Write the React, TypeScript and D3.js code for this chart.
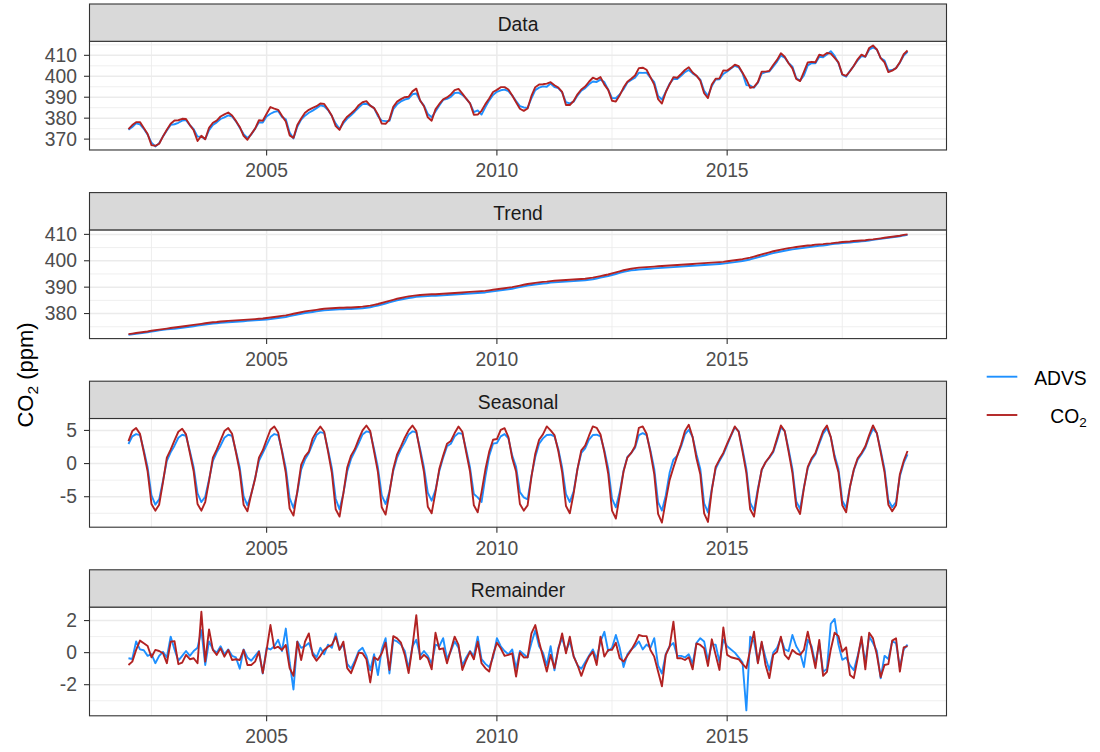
import React from "react";
import * as d3 from "d3";

// ---------------- DATA (monthly, Jan 2002 – Dec 2018) ----------------
const startYear = 2002;

const dataAdvs = [
  374.5, 375.8, 377.5, 377.0, 374.9, 372.1, 368.3, 366.5, 368.0, 371.3, 374.1, 376.8,
  377.1, 377.8, 378.8, 379.1, 376.7, 374.7, 371.2, 371.2, 370.0, 374.3, 376.8, 378.0,
  379.6, 380.4, 381.3, 380.8, 378.5, 375.4, 372.4, 370.6, 372.2, 375.0, 378.0, 377.9,
  380.8, 382.1, 383.0, 383.4, 380.6, 379.5, 373.2, 370.3, 375.9, 379.3, 381.2, 382.6,
  383.6, 384.8, 386.1, 385.7, 383.9, 381.0, 377.4, 374.9, 377.6, 379.8, 381.4, 383.2,
  385.1, 386.7, 386.9, 386.0, 384.8, 381.0, 378.8, 378.6, 378.7, 384.3, 386.6, 388.0,
  388.9, 389.3, 391.4, 391.8, 388.4, 386.0, 382.0, 380.4, 383.2, 386.1, 388.7, 389.2,
  390.2, 392.0, 392.2, 391.1, 389.3, 387.1, 382.9, 383.7, 381.7, 385.3, 388.5, 391.1,
  392.6, 393.3, 393.6, 392.9, 390.8, 388.2, 385.8, 385.1, 384.9, 389.5, 393.4, 394.6,
  395.2, 395.0, 396.5, 394.8, 394.4, 392.3, 387.6, 387.1, 387.9, 390.8, 393.1, 394.3,
  396.2, 397.5, 397.3, 398.4, 397.2, 393.6, 389.6, 389.5, 391.4, 393.8, 397.0, 398.2,
  399.3, 401.7, 401.6, 401.7, 399.3, 397.2, 390.6, 388.9, 392.5, 396.5, 398.8, 398.7,
  400.2, 402.0, 403.0, 401.4, 400.2, 398.4, 393.1, 390.7, 395.3, 398.4, 398.6, 401.1,
  402.3, 403.7, 405.0, 404.3, 401.5, 395.8, 395.6, 394.5, 396.9, 401.3, 402.0, 402.3,
  404.6, 407.0, 409.9, 408.9, 406.4, 404.6, 399.2, 397.9, 400.4, 405.2, 406.3, 406.2,
  409.3, 409.1, 410.4, 412.0, 409.7, 406.2, 400.7, 399.8, 402.6, 405.0, 407.6, 409.6,
  409.3, 412.7, 413.8, 412.8, 408.7, 407.5, 402.8, 403.0, 403.9, 406.5, 409.9, 411.7,
];

const dataCo2 = [
  374.8, 376.7, 378.1, 378.1, 375.3, 372.4, 367.1, 366.8, 367.8, 371.3, 374.5, 377.3,
  378.9, 379.0, 379.7, 379.6, 376.7, 374.2, 369.1, 371.6, 369.9, 375.4, 377.8, 378.8,
  380.8, 381.8, 382.7, 381.3, 378.7, 375.8, 371.6, 369.7, 372.4, 375.0, 379.0, 378.8,
  382.1, 385.3, 384.6, 384.0, 381.1, 378.4, 371.8, 370.6, 376.7, 379.8, 382.6, 384.0,
  384.9, 385.7, 387.0, 386.8, 384.1, 381.1, 376.2, 374.4, 378.4, 380.7, 382.2, 383.9,
  386.2, 387.6, 388.1, 386.0, 384.8, 381.8, 377.4, 377.3, 379.3, 385.4, 387.9, 389.1,
  390.0, 390.2, 392.8, 394.1, 388.4, 385.7, 380.4, 378.8, 384.2, 386.8, 389.0, 389.9,
  391.3, 393.4, 394.0, 391.7, 389.3, 387.1, 381.6, 381.7, 383.5, 386.7, 389.4, 392.5,
  393.5, 394.8, 394.8, 393.7, 390.8, 387.6, 384.5, 383.5, 384.6, 390.6, 394.8, 396.1,
  396.2, 396.5, 397.2, 395.7, 394.6, 392.5, 386.3, 386.3, 388.2, 391.4, 393.7, 395.1,
  397.4, 399.3, 398.5, 399.6, 396.0, 393.5, 388.3, 387.9, 390.9, 394.6, 397.4, 398.8,
  400.4, 403.9, 404.1, 403.1, 399.6, 396.0, 389.1, 387.0, 392.4, 396.1, 399.6, 399.3,
  401.1, 403.0, 404.3, 401.8, 400.3, 397.9, 391.9, 389.6, 396.1, 398.8, 399.0, 402.8,
  402.7, 404.0, 405.5, 404.8, 401.7, 398.5, 394.5, 394.9, 397.2, 402.2, 402.2, 402.6,
  405.4, 407.8, 411.0, 409.3, 406.2, 403.8, 398.7, 397.7, 402.1, 406.6, 406.9, 406.7,
  410.3, 409.8, 411.1, 410.8, 408.8, 406.6, 400.9, 400.2, 402.4, 405.0, 408.1, 410.3,
  409.4, 413.5, 414.7, 412.8, 408.7, 406.6, 402.0, 402.7, 403.9, 406.7, 410.5, 412.3,
];

const trendAdvs = [
  371.9, 372.1, 372.3, 372.5, 372.7, 372.9, 373.2, 373.4, 373.6, 373.8, 374.0, 374.1,
  374.2, 374.4, 374.6, 374.8, 375.0, 375.2, 375.4, 375.6, 375.8, 376.0, 376.2, 376.3,
  376.5, 376.6, 376.7, 376.8, 376.9, 377.0, 377.1, 377.2, 377.3, 377.4, 377.5, 377.6,
  377.7, 377.9, 378.1, 378.3, 378.5, 378.7, 379.0, 379.3, 379.6, 379.9, 380.2, 380.4,
  380.6, 380.8, 381.0, 381.2, 381.3, 381.4, 381.5, 381.6, 381.6, 381.7, 381.7, 381.8,
  381.9, 382.0, 382.2, 382.4, 382.7, 383.0, 383.4, 383.8, 384.2, 384.6, 385.0, 385.3,
  385.6, 385.9, 386.1, 386.3, 386.4, 386.5, 386.6, 386.7, 386.7, 386.8, 386.9, 387.0,
  387.1, 387.2, 387.3, 387.4, 387.5, 387.6, 387.7, 387.8, 387.9, 388.0, 388.2, 388.4,
  388.6, 388.8, 389.0, 389.2, 389.4, 389.7, 390.0, 390.3, 390.6, 390.8, 391.0, 391.2,
  391.4, 391.5, 391.7, 391.8, 391.9, 392.0, 392.1, 392.2, 392.3, 392.4, 392.5, 392.6,
  392.8, 393.0, 393.3, 393.6, 393.9, 394.2, 394.6, 395.0, 395.4, 395.8, 396.1, 396.4,
  396.5, 396.7, 396.8, 396.9, 397.0, 397.1, 397.2, 397.3, 397.4, 397.5, 397.6, 397.7,
  397.8, 397.9, 398.0, 398.1, 398.2, 398.3, 398.4, 398.5, 398.6, 398.7, 398.8, 398.9,
  399.1, 399.3, 399.5, 399.7, 399.9, 400.2, 400.5, 400.9, 401.3, 401.7, 402.1, 402.5,
  402.9, 403.2, 403.5, 403.8, 404.1, 404.3, 404.5, 404.7, 404.9, 405.1, 405.3, 405.5,
  405.7, 405.8, 406.0, 406.2, 406.4, 406.5, 406.7, 406.8, 406.9, 407.1, 407.2, 407.4,
  407.5, 407.7, 407.9, 408.1, 408.3, 408.5, 408.7, 408.9, 409.1, 409.3, 409.6, 409.8,
];

const trendCo2 = [
  372.2, 372.4, 372.6, 372.8, 373.0, 373.2, 373.5, 373.7, 373.9, 374.1, 374.3, 374.5,
  374.7, 374.9, 375.1, 375.3, 375.5, 375.7, 375.9, 376.1, 376.3, 376.5, 376.7, 376.8,
  377.0, 377.1, 377.2, 377.3, 377.4, 377.5, 377.6, 377.7, 377.8, 377.9, 378.0, 378.1,
  378.3, 378.5, 378.7, 378.9, 379.1, 379.3, 379.6, 379.9, 380.2, 380.5, 380.8, 381.0,
  381.2, 381.4, 381.6, 381.8, 381.9, 382.0, 382.1, 382.2, 382.2, 382.3, 382.3, 382.4,
  382.5, 382.6, 382.8, 383.0, 383.3, 383.6, 384.0, 384.4, 384.8, 385.2, 385.6, 385.9,
  386.2, 386.5, 386.7, 386.9, 387.0, 387.1, 387.2, 387.3, 387.3, 387.4, 387.5, 387.6,
  387.7, 387.8, 387.9, 388.0, 388.1, 388.2, 388.3, 388.4, 388.5, 388.6, 388.8, 389.0,
  389.2, 389.4, 389.6, 389.8, 390.0, 390.3, 390.6, 390.9, 391.2, 391.4, 391.6, 391.8,
  392.0, 392.1, 392.3, 392.4, 392.5, 392.6, 392.7, 392.8, 392.9, 393.0, 393.1, 393.2,
  393.4, 393.6, 393.9, 394.2, 394.5, 394.8, 395.2, 395.6, 396.0, 396.4, 396.7, 397.0,
  397.2, 397.4, 397.5, 397.6, 397.7, 397.8, 397.9, 398.0, 398.1, 398.2, 398.3, 398.4,
  398.5, 398.6, 398.7, 398.8, 398.9, 399.0, 399.1, 399.2, 399.3, 399.4, 399.5, 399.6,
  399.8, 400.0, 400.2, 400.4, 400.6, 400.9, 401.2, 401.6, 402.0, 402.4, 402.8, 403.2,
  403.6, 403.9, 404.2, 404.5, 404.8, 405.0, 405.2, 405.4, 405.6, 405.8, 405.9, 406.1,
  406.2, 406.3, 406.5, 406.6, 406.8, 406.9, 407.1, 407.2, 407.3, 407.5, 407.6, 407.7,
  407.8, 408.0, 408.1, 408.3, 408.5, 408.7, 408.9, 409.1, 409.3, 409.5, 409.8, 410.0,
];

const seasonalAdvs = [
  2.95, 4.1, 4.45, 4.3, 2.0, -0.6, -4.8, -6.2, -5.4, -2.6, 0.4, 1.7,
  2.7, 3.9, 4.35, 4.2, 1.9, -0.6, -4.5, -5.8, -5.0, -2.4, 0.4, 1.7,
  2.7, 3.9, 4.35, 4.2, 1.9, -0.6, -4.9, -6.3, -4.6, -2.2, 0.4, 1.6,
  2.8, 4.0, 4.45, 4.3, 2.0, -0.7, -5.2, -6.7, -4.4, -0.9, 0.6, 1.6,
  3.0, 4.3, 4.75, 4.6, 2.1, -0.7, -5.3, -6.9, -4.5, -1.2, 0.7, 1.9,
  3.1, 4.4, 4.85, 4.7, 2.2, -0.6, -4.8, -6.1, -4.2, -1.1, 0.9, 2.2,
  3.2, 4.4, 4.85, 4.7, 2.2, -0.6, -4.4, -5.6, -4.0, -1.1, 0.9, 2.6,
  3.0, 4.1, 4.6, 4.5, 2.1, -0.6, -4.6, -5.1, -5.8, -2.0, 1.2, 3.0,
  3.1, 4.1, 4.45, 3.8, 1.2, -0.5, -4.3, -5.1, -5.4, -1.9, 1.0, 3.0,
  3.8, 4.3, 4.35, 4.1, 2.2, -0.6, -4.6, -5.8, -4.2, -0.8, 1.6, 2.3,
  3.6, 4.3, 4.35, 4.1, 2.0, -0.7, -5.3, -6.6, -4.3, -1.1, 1.0, 1.6,
  2.4, 4.3, 4.6, 4.3, 2.0, -0.8, -5.8, -7.1, -4.8, -1.4, 0.6, 1.2,
  2.6, 4.4, 5.1, 4.0, 1.4, -0.8, -6.0, -7.35, -3.8, -0.8, 0.4, 1.4,
  2.8, 4.2, 5.45, 4.9, 2.2, -0.8, -5.9, -7.1, -3.8, -1.0, 0.2, 0.9,
  1.7, 3.5, 5.45, 4.9, 2.2, -0.8, -5.7, -6.85, -3.6, -0.7, 0.6, 1.4,
  3.0, 4.5, 5.35, 4.0, 1.2, -0.8, -5.6, -6.7, -3.5, -1.0, 0.6, 1.4,
  2.4, 4.0, 5.25, 4.6, 2.0, -0.8, -5.5, -6.6, -5.8, -1.9, 0.1, 1.4,
];

const seasonalCo2 = [
  3.4, 4.9, 5.35, 4.5, 1.7, -1.2, -6.1, -7.1, -6.2, -2.8, 0.9, 2.1,
  3.5, 4.8, 5.25, 4.4, 1.6, -1.2, -6.1, -7.1, -5.8, -2.6, 0.9, 2.1,
  3.5, 4.9, 5.35, 4.5, 1.7, -1.2, -6.2, -7.2, -4.6, -2.3, 0.9, 2.0,
  3.6, 5.1, 5.6, 4.7, 1.8, -1.4, -6.8, -7.85, -4.2, -0.2, 1.1, 1.8,
  3.8, 4.8, 5.6, 4.8, 1.8, -1.4, -6.9, -8.0, -4.5, -0.6, 1.2, 2.2,
  3.7, 5.0, 5.75, 4.9, 1.8, -1.3, -6.6, -7.7, -4.4, -0.8, 1.4, 2.6,
  3.9, 5.0, 5.75, 4.9, 1.8, -1.3, -6.5, -7.5, -4.3, -0.8, 1.2, 3.0,
  3.4, 4.6, 5.6, 4.8, 1.7, -1.2, -6.3, -7.35, -4.3, -0.9, 1.8, 3.6,
  3.7, 5.1, 5.35, 4.0, 0.8, -1.2, -6.1, -7.1, -6.3, -2.0, 1.5, 3.6,
  4.4, 5.6, 5.0, 4.3, 1.9, -1.3, -6.4, -7.5, -4.5, -0.8, 2.0, 2.7,
  4.2, 5.6, 5.4, 4.4, 1.7, -1.5, -7.1, -8.3, -4.8, -1.2, 0.9, 1.6,
  2.6, 5.4, 5.6, 4.5, 1.7, -1.6, -7.6, -8.9, -5.6, -2.5, -0.6, 1.2,
  2.9, 4.9, 5.85, 4.0, 0.8, -1.6, -7.5, -8.8, -4.0, -0.5, 0.6, 1.6,
  3.0, 4.3, 5.6, 4.8, 1.8, -1.4, -6.9, -8.0, -4.1, -0.9, 0.2, 1.0,
  1.9, 3.8, 5.75, 4.9, 1.8, -1.4, -6.5, -7.6, -3.7, -0.5, 0.8, 1.6,
  3.3, 4.9, 5.75, 4.0, 0.8, -1.3, -6.3, -7.35, -3.5, -0.9, 0.8, 1.6,
  2.6, 4.3, 5.75, 4.6, 1.7, -1.3, -6.2, -7.2, -6.3, -1.6, 0.4, 1.9,
];

const remainderAdvs = [
  -0.35, -0.4, 0.7, 0.2, 0.15, -0.2, -0.1, -0.66, -0.2, 0.05, -0.3, 1.0,
  0.2, -0.5, -0.2, 0.1, -0.2, 0.1, 0.3, 1.4, -0.77, 0.7, 0.2, 0.0,
  0.4, -0.1, 0.2, -0.2, -0.3, -1.0, 0.2, -0.3, -0.5, -0.2, 0.1, -1.3,
  0.3, 0.2, 0.4, 0.8, 0.1, 1.5, -0.6, -2.3, 0.7, 0.3, 0.4, 0.6,
  0.0, -0.3, 0.3, -0.1, 0.5, 0.3, 1.2, 0.2, 0.5, -0.7, -1.0, -0.5,
  0.1, 0.3, -0.2, -1.1, -0.1, -1.4, 0.2, 0.9, -1.3, 0.8, 0.7, 0.5,
  0.1, -1.0, 0.4, 0.8, -0.2, 0.1, -0.2, -0.7, 0.5, 0.4, 0.9, -0.4,
  0.1, 0.7, 0.3, -0.8, -0.3, 0.1, -0.2, 1.0, -0.4, -0.7, -0.9, -0.3,
  0.9, 0.4, 0.1, -0.1, 0.2, -1.0, 0.1, -0.1, -0.3, 0.6, 1.4, 0.4,
  0.0, -0.8, 0.4, -1.1, 0.3, 0.9, 0.1, 0.7, -0.2, -0.8, -1.0, -0.6,
  -0.2, 0.2, -0.4, 0.7, 1.3, 0.1, 0.3, 1.1, 0.3, -0.9, -0.1, 0.2,
  0.4, 0.7, 0.2, 0.5, 0.3, 0.9, -0.8, -1.3, -0.1, 0.4, 0.6, -0.2,
  -0.2, -0.3, -0.1, -0.7, 0.6, 0.9, 0.7, -0.5, 0.5, 0.5, -0.6, 0.8,
  0.4, 0.2, 0.0, -0.3, -0.6, -3.6, 1.0, 0.7, -0.6, 0.6, -0.3, -1.1,
  0.0, 0.3, 0.9, 0.2, 0.1, 1.1, 0.4, 0.0, -0.9, 0.8, 0.4, -0.7,
  0.6, -1.2, -1.0, 1.8, 2.1, 0.5, -0.45, -0.3, -0.8, -1.1, -0.2, 0.8,
  -0.6, 1.0, 0.6, 0.1, -1.6, -0.2, -0.4, 0.7, 0.6, -0.9, 0.2, 0.5,
];

const remainderCo2 = [
  -0.77, -0.56, 0.17, 0.75, 0.58, 0.41, -0.29, 0.17, 0.1, -0.04, -0.66, 0.68,
  0.72, -0.72, -0.62, -0.14, -0.41, -0.35, -0.66, 2.55, -0.56, 1.45, 0.17, -0.14,
  0.27, -0.25, 0.17, -0.46, -0.41, -0.46, 0.17, -0.77, -0.77, -0.56, 0.06, -1.28,
  0.17, 1.72, 0.27, 0.37, 0.17, 0.48, -0.97, -1.45, 0.68, -0.46, 0.68, 1.2,
  -0.14, -0.5, -0.2, 0.17, 0.37, 0.48, 1.0, 0.17, 0.68, -0.97, -1.28, -0.66,
  0.0, -0.04, -0.41, -1.86, -0.29, -0.46, -0.04, 0.62, -1.08, 1.03, 0.89, 0.62,
  -0.14, -1.28, 0.37, 2.34, -0.41, -0.14, -0.35, -1.04, 1.24, 0.21, 0.27, -0.66,
  0.17, 1.0, 0.48, -1.08, -0.46, 0.06, -0.41, 0.68, -0.66, -0.97, -1.18, -0.14,
  0.62, 0.27, -0.2, -0.14, -0.04, -1.49, 0.0, -0.3, -0.29, 1.2, 1.72, 0.68,
  -0.25, -1.18, -0.14, -0.97, 0.17, 1.2, -0.04, 1.0, -0.25, -0.77, -1.45, -0.77,
  -0.25, 0.06, -0.77, 1.0, -0.25, 0.17, 0.17, 0.62, -0.35, -0.56, -0.2, 0.17,
  0.58, 1.1, 1.03, 1.03, 0.17, -0.25, -1.18, -2.1, -0.14, 0.37, 1.93, -0.35,
  -0.35, -0.46, -0.29, -1.04, 0.58, 0.48, 0.27, -0.83, 0.83, -0.14, -1.08, 1.57,
  -0.14, -0.29, -0.35, -0.41, -0.7, -0.97, 0.17, 1.3, -0.66, 0.68, -0.77, -1.59,
  -0.14, 0.06, 1.0, -0.14, -0.41, 0.17, -0.04, -0.14, 0.17, 1.3, 0.21, -0.97,
  0.79, -1.45, -1.2, 0.2, 1.24, 1.03, 0.06, 0.33, -1.39, -1.59, -0.35, 1.0,
  -1.04, 1.24, 0.89, -0.14, -1.53, -0.77, -0.72, 0.75, 0.89, -1.18, 0.33, 0.41,
];

const facetTitles = ["Data", "Trend", "Seasonal", "Remainder"];
const seriesNames = ["ADVS", "CO2"];

const yTicksData = [370, 380, 390, 400, 410];
const yMinorData = [365, 375, 385, 395, 405, 415];
const yTicksTrend = [380, 390, 400, 410];
const yMinorTrend = [375, 385, 395, 405];
const yTicksSeasonal = [-5, 0, 5];
const yMinorSeasonal = [-7.5, -2.5, 2.5];
const yTicksRemainder = [-2, 0, 2];
const yMinorRemainder = [-3, -1, 1];

const xTicks = [2005, 2010, 2015];
const xMinor = [2002.5, 2007.5, 2012.5, 2017.5];

// y-domains of the free scales
const yDomainData: [number, number] = [364.8, 416.7];
const yDomainTrend: [number, number] = [370.5, 411.7];
const yDomainSeasonal: [number, number] = [-9.6, 6.8];
const yDomainRemainder: [number, number] = [-3.94, 2.84];

// ---------------- LAYOUT / STYLE ----------------
const W = 1100;
const H = 752;
const panelLeft = 89.5;
const panelRight = 946.5;
const firstStripTop = 4;
const facetStep = 188.6;
const stripH = 37.3;
const panelH = 108.7;

const colAdvs = "#1E90FF";
const colCo2 = "#B22222";
const gridCol = "#EBEBEB";
const borderCol = "#333333";
const font = "'Liberation Sans', Arial, Helvetica, sans-serif";
const smallSize = 19.3;

const time = dataCo2.map((_, i) => startYear + i / 12);

export default function App() {
  const tExt = d3.extent(time) as [number, number];
  const pad = (tExt[1] - tExt[0]) * 0.05;
  const x = d3.scaleLinear().domain([tExt[0] - pad, tExt[1] + pad]).range([panelLeft, panelRight]);

  const facets = [
    { title: facetTitles[0], advs: dataAdvs, co2: dataCo2, domain: yDomainData, ticks: yTicksData, minor: yMinorData },
    { title: facetTitles[1], advs: trendAdvs, co2: trendCo2, domain: yDomainTrend, ticks: yTicksTrend, minor: yMinorTrend },
    { title: facetTitles[2], advs: seasonalAdvs, co2: seasonalCo2, domain: yDomainSeasonal, ticks: yTicksSeasonal, minor: yMinorSeasonal },
    { title: facetTitles[3], advs: remainderAdvs, co2: remainderCo2, domain: yDomainRemainder, ticks: yTicksRemainder, minor: yMinorRemainder },
  ];

  return (
    <div style={{ position: "absolute", left: 0, top: 0 }}>
      <svg width={W} height={H} viewBox={`0 0 ${W} ${H}`} style={{ display: "block", background: "#fff" }} fontFamily={font}>
        <rect x={0} y={0} width={W} height={H} fill="#fff" />
        {facets.map((f, k) => {
          const stripTop = firstStripTop + k * facetStep;
          const pTop = stripTop + stripH;
          const pBot = pTop + panelH;
          const y = d3.scaleLinear().domain(f.domain).range([pBot, pTop]);
          const line = d3
            .line<number>()
            .x((_, i) => x(time[i]))
            .y((d) => y(d));
          return (
            <g key={f.title}>
              <rect x={panelLeft} y={pTop} width={panelRight - panelLeft} height={panelH} fill="#fff" />
              {/* minor grid */}
              {f.minor.filter((v) => v > f.domain[0] && v < f.domain[1]).map((v) => (
                <line key={"hm" + v} x1={panelLeft} x2={panelRight} y1={y(v)} y2={y(v)} stroke={gridCol} strokeWidth={0.8} />
              ))}
              {xMinor.map((v) => (
                <line key={"vm" + v} x1={x(v)} x2={x(v)} y1={pTop} y2={pBot} stroke={gridCol} strokeWidth={0.8} />
              ))}
              {/* major grid */}
              {f.ticks.map((v) => (
                <line key={"hM" + v} x1={panelLeft} x2={panelRight} y1={y(v)} y2={y(v)} stroke={gridCol} strokeWidth={1.5} />
              ))}
              {xTicks.map((v) => (
                <line key={"vM" + v} x1={x(v)} x2={x(v)} y1={pTop} y2={pBot} stroke={gridCol} strokeWidth={1.5} />
              ))}
              {/* series */}
              <path d={line(f.advs) || ""} fill="none" stroke={colAdvs} strokeWidth={1.9} strokeLinejoin="round" />
              <path d={line(f.co2) || ""} fill="none" stroke={colCo2} strokeWidth={1.9} strokeLinejoin="round" />
              {/* panel border */}
              <rect x={panelLeft} y={pTop} width={panelRight - panelLeft} height={panelH} fill="none" stroke={borderCol} strokeWidth={1.1} />
              {/* strip */}
              <rect x={panelLeft} y={stripTop} width={panelRight - panelLeft} height={stripH} fill="#D9D9D9" stroke={borderCol} strokeWidth={1.1} />
              <text x={(panelLeft + panelRight) / 2} y={stripTop + 27.3} textAnchor="middle" fontSize={smallSize} fill="#1A1A1A">
                {f.title}
              </text>
              {/* y axis */}
              {f.ticks.map((v) => (
                <g key={"yt" + v}>
                  <line x1={panelLeft - 5.5} x2={panelLeft} y1={y(v)} y2={y(v)} stroke={borderCol} strokeWidth={1.1} />
                  <text x={77} y={y(v) + 6.7} textAnchor="end" fontSize={smallSize} fill="#4D4D4D">
                    {v}
                  </text>
                </g>
              ))}
              {/* x axis */}
              {xTicks.map((v) => (
                <g key={"xt" + v}>
                  <line x1={x(v)} x2={x(v)} y1={pBot} y2={pBot + 5.5} stroke={borderCol} strokeWidth={1.1} />
                  <text x={x(v)} y={pBot + 27.3} textAnchor="middle" fontSize={smallSize} fill="#4D4D4D">
                    {v}
                  </text>
                </g>
              ))}
            </g>
          );
        })}

        {/* y-axis title */}
        <text transform="translate(33.3,375) rotate(-90)" textAnchor="middle" fontSize={22} fill="#000">
          CO<tspan fontSize={15.5} dy={5}>2</tspan>
          <tspan dy={-5}> (ppm)</tspan>
        </text>

        {/* legend */}
        <g>
          <line x1={986.7} x2={1017.3} y1={376.7} y2={376.7} stroke={colAdvs} strokeWidth={1.9} />
          <text x={1086.7} y={385} textAnchor="end" fontSize={smallSize} fill="#000">
            {seriesNames[0]}
          </text>
          <line x1={986.7} x2={1017.3} y1={415} y2={415} stroke={colCo2} strokeWidth={1.9} />
          <text x={1086.7} y={422.7} textAnchor="end" fontSize={smallSize} fill="#000">
            CO<tspan fontSize={13.5} dy={4}>2</tspan>
          </text>
        </g>
      </svg>
    </div>
  );
}
